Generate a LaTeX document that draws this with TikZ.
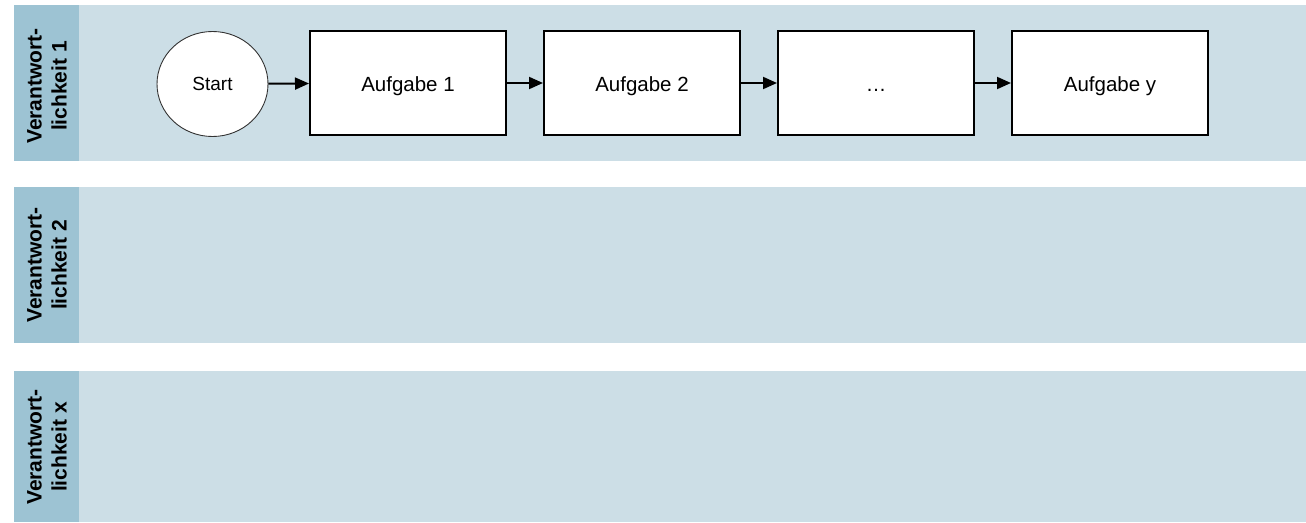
\documentclass[tikz,border=0pt]{standalone}
\usepackage{fontspec}
\setmainfont{Liberation Sans}
\usetikzlibrary{positioning,shapes.geometric,arrows.meta}
\definecolor{lanefill}{RGB}{204,222,230}
\definecolor{labelfill}{RGB}{157,195,211}
\tikzstyle{lane} = [fill=lanefill, draw=none]
\tikzstyle{lanehead} = [fill=labelfill, draw=none]
\tikzstyle{lanetitle} = [rotate=90, align=center, font=\fontsize{21}{25}\selectfont\bfseries]
\tikzstyle{startnode} = [ellipse, draw=black!80, fill=white, line width=0.9pt,
    minimum width=111pt, minimum height=105pt, inner sep=0pt,
    text height=12pt, text depth=0pt, font=\fontsize{19}{22}\selectfont]
\tikzstyle{task} = [rectangle, draw=black, fill=white, line width=2pt,
    minimum width=196pt, minimum height=104pt, inner sep=0pt,
    text height=17pt, text depth=0pt, font=\fontsize{20.5}{24}\selectfont]
\tikzstyle{flow} = [line width=2pt, -{Triangle[length=14pt,width=12pt]}]

\begin{document}
\begin{tikzpicture}[x=1pt, y=-1pt]
    \useasboundingbox (0,0) rectangle (1306,522);
    % Bahnen
    \fill[lane] (14,5) rectangle (1306,161);
    \fill[lane] (14,187) rectangle (1306,343);
    \fill[lane] (14,371) rectangle (1306,522);
    \fill[lanehead] (14,5) rectangle (79,161);
    \fill[lanehead] (14,187) rectangle (79,343);
    \fill[lanehead] (14,371) rectangle (79,522);
    \node[lanetitle] (resp1) at (47,86) {Verantwort-\\lichkeit 1};
    \node[lanetitle] (resp2) at (47,265) {Verantwort-\\lichkeit 2};
    \node[lanetitle] (respx) at (47,447) {Verantwort-\\lichkeit x};
    % Ablauf
    \node[startnode] (start) at (212.5,84) {Start};
    \node[task] (task1) at (408,83) {Aufgabe 1};
    \node[task, right=36pt of task1] (task2) {Aufgabe 2};
    \node[task, right=36pt of task2] (taskdots) {\dots};
    \node[task, right=36pt of taskdots] (tasky) {Aufgabe y};
    \draw[flow] (start) -- (task1);
    \draw[flow] (task1) -- (task2);
    \draw[flow] (task2) -- (taskdots);
    \draw[flow] (taskdots) -- (tasky);
\end{tikzpicture}
\end{document}
